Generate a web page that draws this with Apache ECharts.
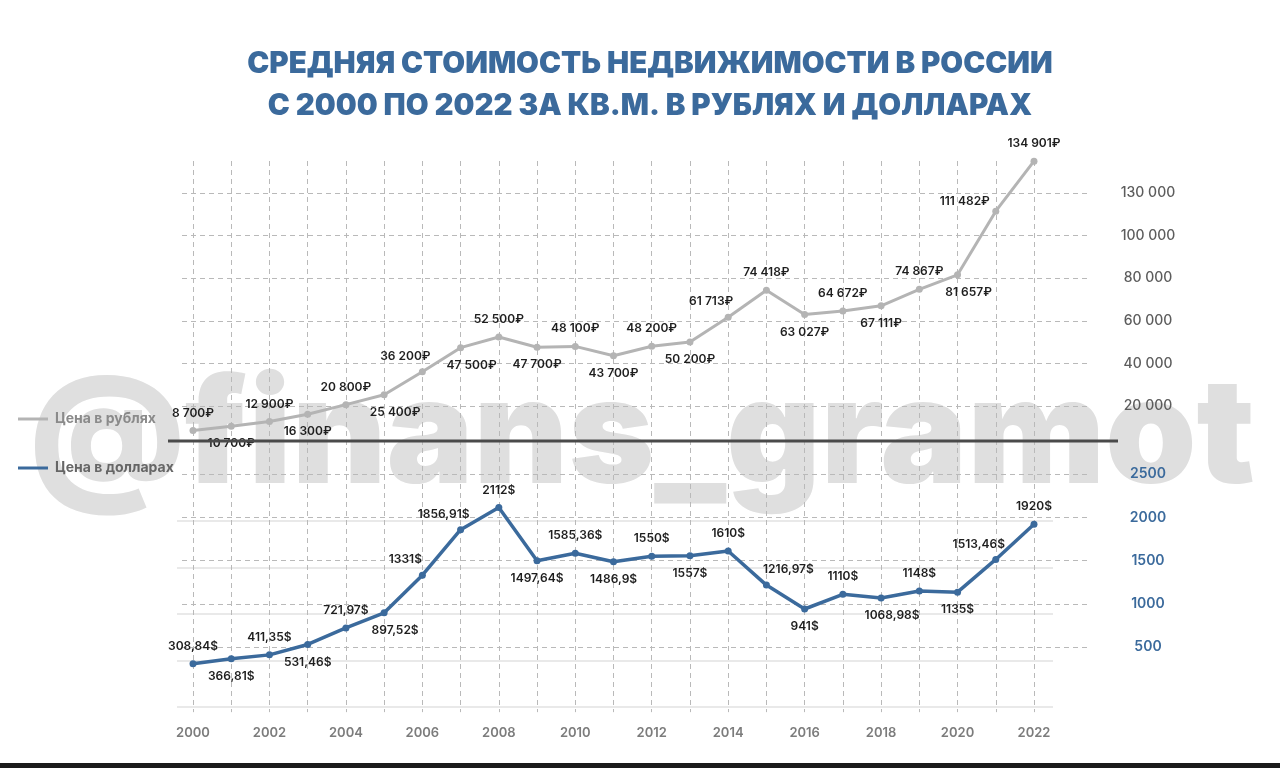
<!DOCTYPE html>
<html>
<head>
<meta charset="utf-8">
<script src="https://cdn.jsdelivr.net/npm/echarts@6/dist/echarts.min.js"></script>
<style>
html,body{margin:0;padding:0;background:#ffffff;}
#chart{width:1280px;height:768px;}
</style>
</head>
<body>
<div id="chart"></div>
<script>
// ---- data ----
const years = ['2000','2001','2002','2003','2004','2005','2006','2007','2008','2009','2010','2011','2012','2013','2014','2015','2016','2017','2018','2019','2020','2021','2022'];
const rubValues = [8700,10700,12900,16300,20800,25400,36200,47500,52500,47700,48100,43700,48200,50200,61713,74418,63027,64672,67111,74867,81657,111482,134901];
const usdValues = [308.84,366.81,411.35,531.46,721.97,897.52,1331,1856.91,2112,1497.64,1585.36,1486.9,1550,1557,1610,1216.97,941,1110,1068.98,1148,1135,1513.46,1920];
const rubTickLabels = ['20 000','40 000','60 000','80 000','100 000','130 000'];
const usdTickLabels = ['500','1000','1500','2000','2500'];
const rubLabelSide = ['T','B','T','B','T','BR','TL','BR','T','B','T','B','T','B','TL','T','B','T','B','T','BR','L','T'];
const usdLabelSide = ['T','B','T','B','T','BR','TL','TL','T','B','T','B','T','B','T','TR','B','T','BR','T','B','TL','T'];
const titleLines = ['СРЕДНЯЯ СТОИМОСТЬ НЕДВИЖИМОСТИ В РОССИИ','С 2000 ПО 2022 ЗА КВ.М. В РУБЛЯХ И ДОЛЛАРАХ'];
const rubName = 'Цена в рублях';
const usdName = 'Цена в долларах';
const watermark = '@finans_gramot';

// ---- styling ----
const FONT = 'Inter, "Noto Sans", sans-serif';
const BLUE = '#3b6a9c';
const GRAY_LINE = '#b4b4b4';
const DASH = {color:'#b9b9b9', type:[5,4], width:1};

function fmtRub(v){ return String(v).replace(/\B(?=(\d{3})+(?!\d))/g,' ') + '₽'; }
function fmtUsd(v){ return String(v).replace('.', ',') + '$'; }

const sideMap = {
  T:{position:'top',offset:[0,0]},
  B:{position:'bottom',offset:[0,0]},
  TL:{position:'top',offset:[-17,2]},
  TR:{position:'top',offset:[22,2]},
  BR:{position:'bottom',offset:[11,0]},
  L:{position:'top',offset:[-31,8]}
};
function buildData(values, sides, fmt){
  return values.map((v,i)=>({
    value: v,
    label: Object.assign({formatter: fmt(v)}, sideMap[sides[i]])
  }));
}

const labelBase = {show:true, distance:8, color:'#1e1e1e', fontFamily:FONT, fontSize:12, fontWeight:600};

const chart = echarts.init(document.getElementById('chart'), null, {renderer:'canvas'});
chart.setOption({
  backgroundColor:'#ffffff',
  animation:false,
  title:{
    text: titleLines.join('\n'),
    left: 650, top: 43, textAlign:'center', padding:0,
    textStyle:{color:BLUE, fontFamily:FONT, fontWeight:900, fontSize:29.5, lineHeight:42}
  },
  legend:[
    {data:[{name:rubName, textStyle:{color:'#8a8a8a'}}], left:13, top:407, icon:'rect', itemWidth:30, itemHeight:3,
     textStyle:{fontFamily:FONT, fontSize:14, fontWeight:700, padding:[0,0,0,2]}, selectedMode:false},
    {data:[{name:usdName, textStyle:{color:'#666666'}}], left:13, top:456, icon:'rect', itemWidth:30, itemHeight:3,
     textStyle:{fontFamily:FONT, fontSize:14, fontWeight:700, padding:[0,0,0,2]}, selectedMode:false}
  ],
  grid:[
    {left:182, right:193, top:150.4, height:298.2},   // 0: ruble gridlines + labels
    {left:193, right:246, top:161, height:288},       // 1: ruble data
    {left:182, right:193, top:474, height:216.5},     // 2: dollar gridlines + labels
    {left:193, right:246, top:448, height:264.15},    // 3: dollar data + years
    {left:177, right:227, top:521, height:186}        // 4: light solid lines
  ],
  xAxis:[
    {gridIndex:0, type:'value', min:0, max:1, show:false},
    {gridIndex:1, type:'category', data:years, boundaryGap:false,
     axisLine:{show:false}, axisTick:{show:false}, axisLabel:{show:false},
     splitLine:{show:true, interval:0, lineStyle:DASH}},
    {gridIndex:2, type:'value', min:0, max:1, show:false},
    {gridIndex:3, type:'category', data:years, boundaryGap:false,
     axisLine:{show:false}, axisTick:{show:false},
     axisLabel:{interval:1, margin:14, color:'#7c7c7c', fontFamily:FONT, fontSize:13, fontWeight:600},
     splitLine:{show:true, interval:0, lineStyle:DASH}},
    {gridIndex:4, type:'value', min:0, max:1, show:false}
  ],
  yAxis:[
    {gridIndex:0, type:'value', position:'right', min:0, max:140000, interval:20000,
     axisLine:{show:false}, axisTick:{show:false},
     splitLine:{show:true, showMinLine:false, showMaxLine:false, lineStyle:DASH},
     axisLabel:{showMinLabel:false, showMaxLabel:false, margin:61, align:'center', padding:[4,0,0,0],
       color:'#5c5c5c', fontFamily:FONT, fontSize:14, fontWeight:500,
       formatter:(v)=>rubTickLabels[Math.round(v/20000)-1] || ''}},
    {gridIndex:1, type:'value', min:0, max:135000, show:false, splitLine:{show:false}},
    {gridIndex:2, type:'value', position:'right', min:0, max:2500, interval:500,
     axisLine:{show:false}, axisTick:{show:false},
     splitLine:{show:true, showMinLine:false, showMaxLine:true, lineStyle:DASH},
     axisLabel:{showMinLabel:false, showMaxLabel:true, margin:61, align:'center', padding:[6,0,0,0],
       color:BLUE, fontFamily:FONT, fontSize:14, fontWeight:600,
       formatter:(v)=>usdTickLabels[Math.round(v/500)-1] || ''}},
    {gridIndex:3, type:'value', min:-250, max:2800, show:false, splitLine:{show:false}},
    {gridIndex:4, type:'value', min:0, max:4, interval:1, axisLine:{show:false}, axisTick:{show:false}, axisLabel:{show:false},
     splitLine:{show:true, showMinLine:true, showMaxLine:true, lineStyle:{color:'#e2e2e2', width:1.5, type:'solid'}}}
  ],
  series:[
    {name:rubName, type:'line', xAxisIndex:1, yAxisIndex:1, clip:false,
     data: buildData(rubValues, rubLabelSide, fmtRub),
     symbol:'circle', symbolSize:7,
     lineStyle:{color:GRAY_LINE, width:3}, itemStyle:{color:GRAY_LINE},
     label: labelBase, z:5},
    {name:usdName, type:'line', xAxisIndex:3, yAxisIndex:3, clip:false,
     data: buildData(usdValues, usdLabelSide, fmtUsd),
     symbol:'circle', symbolSize:7,
     lineStyle:{color:BLUE, width:3.5}, itemStyle:{color:BLUE},
     label: labelBase, z:5}
  ],
  graphic:[
    {type:'text', z:-10, left:30, top:366, silent:true,
     style:{text:watermark, fill:'#dfdfdf', font:'900 146px Inter, "Noto Sans", sans-serif'}},
    {type:'line', z:10, silent:true, shape:{x1:168, y1:441, x2:1118, y2:441}, style:{stroke:'#4a4a4a', lineWidth:3}},
    {type:'rect', z:10, silent:true, shape:{x:0, y:763, width:1280, height:5}, style:{fill:'#1b1b1b'}}
  ]
});
</script>
</body>
</html>
